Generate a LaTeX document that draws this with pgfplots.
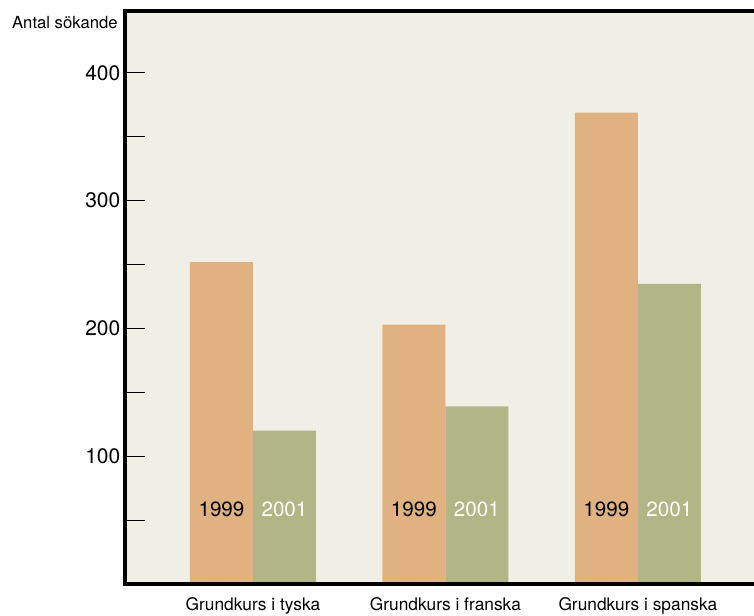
\documentclass[border=0pt]{standalone}
\usepackage{pgfplots}
\pgfplotsset{compat=1.18}
\usepackage{fontspec}
\setmainfont{TeX Gyre Heros}
\definecolor{bgc}{RGB}{240,239,230}
\definecolor{orangec}{RGB}{224,178,130}
\definecolor{greenc}{RGB}{178,181,134}
\begin{document}
\begin{tikzpicture}
\useasboundingbox (0,0) rectangle (565.5pt,462pt);
\begin{axis}[
  at={(93.75pt,24pt)}, anchor=south west,
  scale only axis, width=471.75pt, height=429.75pt,
  xmin=-0.665, xmax=2.603, ymin=0, ymax=448.5,
  axis line style={draw=none},
  axis background/.style={fill=bgc},
  ybar=0pt, bar width=47.25pt,
  xtick={0,1,2},
  xticklabels={Grundkurs i tyska,Grundkurs i franska,Grundkurs i spanska},
  x tick style={draw=none},
  xticklabel style={font=\fontsize{13}{15}\selectfont, anchor=base, inner sep=0pt, yshift=-20.25pt},
  ytick pos=left,
  ytick={50,100,...,400},
  yticklabels={,100,,200,,300,,400},
  y tick style={black, line width=0.7pt},
  tick align=inside,
  major tick length=15pt,
  yticklabel style={font=\fontsize{15.75}{18}\selectfont},
  /pgf/number format/assume math mode=true,
  clip=false,
]
\addplot[fill=orangec, draw=none] coordinates {(0,252) (1,203) (2,369)};
\addplot[fill=greenc, draw=none] coordinates {(0,120) (1,139) (2,235)};
\draw[line width=2.4pt, black] (rel axis cs:1,1) -- (rel axis cs:0,1) -- (rel axis cs:0,0) -- (rel axis cs:1,0);
\pgfplotsinvokeforeach{0,1,2}{
  \node[anchor=base, font=\fontsize{15.5}{18}\selectfont, text=black, inner sep=0pt, xshift=-23.625pt] at (axis cs:#1,52.5) {1999};
  \node[anchor=base, font=\fontsize{15.5}{18}\selectfont, text=white, inner sep=0pt, xshift=23.625pt] at (axis cs:#1,52.5) {2001};
}
\end{axis}
\node[anchor=base east, inner sep=0pt, font=\fontsize{12.5}{15}\selectfont] at (88.5pt,440.25pt) {Antal sökande};
\end{tikzpicture}
\end{document}
